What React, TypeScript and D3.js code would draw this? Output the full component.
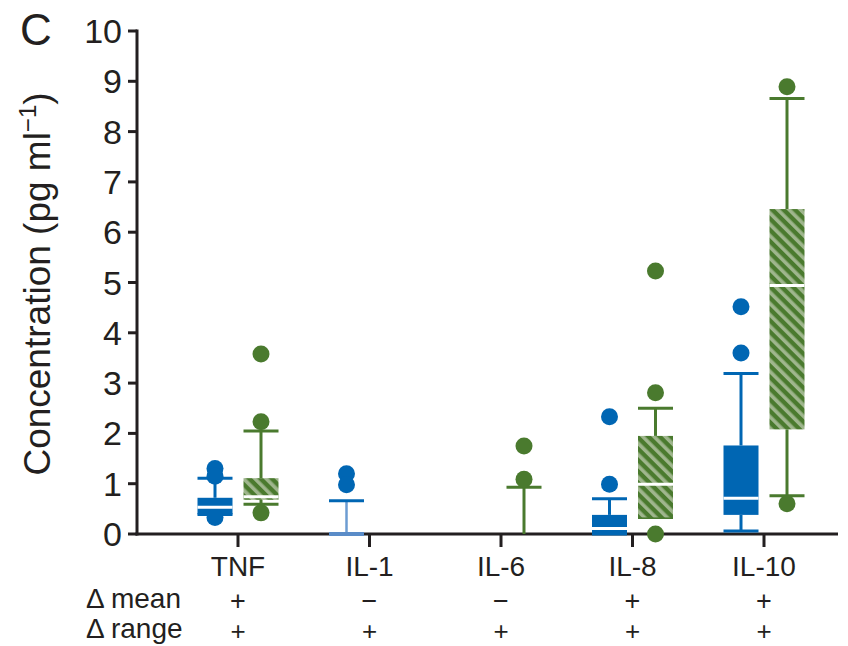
import React from 'react';
import * as d3 from 'd3';

const categories = ['TNF', 'IL-1', 'IL-6', 'IL-8', 'IL-10'];
const yTicks = [0, 1, 2, 3, 4, 5, 6, 7, 8, 9, 10];

// Blue series (solid boxes)
const blueLow: (number | null)[] = [0.39, 0, null, 0, 0.06];
const blueQ1: (number | null)[] = [0.39, 0, null, 0, 0.38];
const blueMedian: (number | null)[] = [0.53, 0, null, 0.11, 0.71];
const blueQ3: (number | null)[] = [0.72, 0, null, 0.38, 1.76];
const blueHigh: (number | null)[] = [1.11, 0.66, null, 0.7, 3.19];
const blueOutliers: number[][] = [[1.3, 1.15, 0.33], [1.2, 0.98], [], [2.33, 0.99], [4.52, 3.6]];

// Green series (hatched boxes)
const greenLow: (number | null)[] = [0.59, null, 0, 0.33, 0.76];
const greenQ1: (number | null)[] = [0.68, null, null, 0.33, 2.08];
const greenMedian: (number | null)[] = [0.74, null, null, 0.99, 4.94];
const greenQ3: (number | null)[] = [1.11, null, null, 1.95, 6.46];
const greenHigh: (number | null)[] = [2.05, null, 0.93, 2.5, 8.66];
const greenOutliers: number[][] = [[3.58, 2.23, 0.42], [], [1.75, 1.09], [5.23, 2.81, 0], [8.89, 0.6]];

const deltaMean = ['+', '\u2212', '\u2212', '+', '+'];
const deltaRange = ['+', '+', '+', '+', '+'];

const BLUE = '#0066b3';
const GREEN = '#4a7a2e';
const LIGHT = '#9fb68d';
const AXIS = '#231f20';
const FONT = 'Liberation Sans, Arial, Helvetica, sans-serif';

const fadedWhisker = new Set(['IL-1']);

export default function App() {
  const width = 848;
  const height = 646;
  const y = d3.scaleLinear().domain([0, 10]).range([534, 31]);
  const x = d3.scalePoint<string>().domain(categories).range([238, 764]);
  const boxW = 35;
  const off = 23;

  const renderSeries = (
    key: string,
    sign: number,
    low: (number | null)[],
    q1: (number | null)[],
    med: (number | null)[],
    q3: (number | null)[],
    high: (number | null)[],
    color: string,
    fill: string
  ) =>
    categories.map((c, i) => {
      const cx = (x(c) as number) + sign * off;
      const els: React.ReactNode[] = [];
      const boxTop = q3[i] != null ? (q3[i] as number) : null;
      const boxBot = q1[i] != null ? (q1[i] as number) : null;
      if (high[i] != null) {
        const from = boxTop != null ? boxTop : (low[i] as number);
        const faded = fadedWhisker.has(c);
        els.push(
          <line key="wu" x1={cx} x2={cx} y1={y(high[i] as number)} y2={y(from)}
            stroke={faded ? '#6d9cd2' : color} strokeWidth={faded ? 2.5 : 3} />
        );
        els.push(
          <line key="cu" x1={cx - boxW / 2} x2={cx + boxW / 2} y1={y(high[i] as number)} y2={y(high[i] as number)}
            stroke={color} strokeWidth={3} />
        );
      }
      if (low[i] != null && boxBot != null && (low[i] as number) < boxBot) {
        els.push(
          <line key="wl" x1={cx} x2={cx} y1={y(boxBot)} y2={y(low[i] as number)} stroke={color} strokeWidth={3} />
        );
        els.push(
          <line key="cl" x1={cx - boxW / 2} x2={cx + boxW / 2} y1={y(low[i] as number)} y2={y(low[i] as number)}
            stroke={color} strokeWidth={3} />
        );
      } else if (low[i] != null && boxBot != null) {
        els.push(
          <line key="cl" x1={cx - boxW / 2} x2={cx + boxW / 2} y1={y(low[i] as number)} y2={y(low[i] as number)}
            stroke={color} strokeWidth={3} />
        );
      }
      if (boxTop != null && boxBot != null) {
        const h = y(boxBot) - y(boxTop);
        if (h < 1) {
          els.push(
            <rect key="b" x={cx - boxW / 2} y={y(boxBot) - 2} width={boxW} height={4} fill="#5a8cc8" />
          );
        } else {
          els.push(<rect key="b" x={cx - boxW / 2} y={y(boxTop)} width={boxW} height={h} fill={fill} />);
          if (med[i] != null) {
            els.push(
              <line key="m" x1={cx - boxW / 2} x2={cx + boxW / 2} y1={y(med[i] as number)} y2={y(med[i] as number)}
                stroke="#fff" strokeWidth={3} />
            );
          }
        }
      }
      return <g key={key + c}>{els}</g>;
    });

  const renderDots = (key: string, sign: number, outs: number[][], color: string) =>
    categories.map((c, i) =>
      outs[i].map((v, j) => (
        <circle key={key + c + j} cx={(x(c) as number) + sign * off} cy={y(v)} r={8.5} fill={color} />
      ))
    );

  return (
    <svg width={width} height={height} style={{ position: 'absolute', left: 0, top: 0, background: '#fff' }}
      fontFamily={FONT}>
      <defs>
        <pattern id="hatch" patternUnits="userSpaceOnUse" width={8} height={8} patternTransform="rotate(-45)">
          <rect x={0} y={0} width={8} height={8} fill={GREEN} />
          <rect x={0} y={0} width={3.6} height={8} fill={LIGHT} />
        </pattern>
      </defs>

      <text x={20} y={45} fontSize={44} fill={AXIS}>C</text>

      {/* Y axis */}
      <line x1={137} x2={137} y1={y(10) - 1.5} y2={y(0) + 1.5} stroke={AXIS} strokeWidth={3} />
      {yTicks.map((t) => (
        <g key={'yt' + t}>
          <line x1={128} x2={137} y1={y(t)} y2={y(t)} stroke={AXIS} strokeWidth={3} />
          <text x={122} y={y(t) + 12} textAnchor="end" fontSize={34} fill={AXIS}>{t}</text>
        </g>
      ))}
      <text transform={`translate(50,${284}) rotate(-90)`} textAnchor="middle" fontSize={37} fill={AXIS}>
        Concentration (pg ml<tspan fontSize={24} dy={-14}>{'\u22121'}</tspan><tspan dy={14}>)</tspan>
      </text>

      {/* X axis */}
      <line x1={135.5} x2={838} y1={y(0)} y2={y(0)} stroke={AXIS} strokeWidth={3} />
      {categories.map((c) => (
        <g key={'xt' + c}>
          <line x1={x(c)} x2={x(c)} y1={y(0)} y2={y(0) + 13} stroke={AXIS} strokeWidth={3} />
          <text x={x(c)} y={576} textAnchor="middle" fontSize={28} fill={AXIS}>{c}</text>
        </g>
      ))}

      <text x={86} y={608} fontSize={28} fill={AXIS}>{'\u0394 mean'}</text>
      <text x={86} y={638} fontSize={28} fill={AXIS}>{'\u0394 range'}</text>
      {categories.map((c, i) => (
        <g key={'d' + c}>
          <text x={x(c)} y={610} textAnchor="middle" fontSize={27} fill={AXIS}>{deltaMean[i]}</text>
          <text x={x(c)} y={640} textAnchor="middle" fontSize={26} fill={AXIS}>{deltaRange[i]}</text>
        </g>
      ))}

      {renderSeries('b', -1, blueLow, blueQ1, blueMedian, blueQ3, blueHigh, BLUE, BLUE)}
      {renderSeries('g', 1, greenLow, greenQ1, greenMedian, greenQ3, greenHigh, GREEN, 'url(#hatch)')}
      {renderDots('bd', -1, blueOutliers, BLUE)}
      {renderDots('gd', 1, greenOutliers, GREEN)}
    </svg>
  );
}
